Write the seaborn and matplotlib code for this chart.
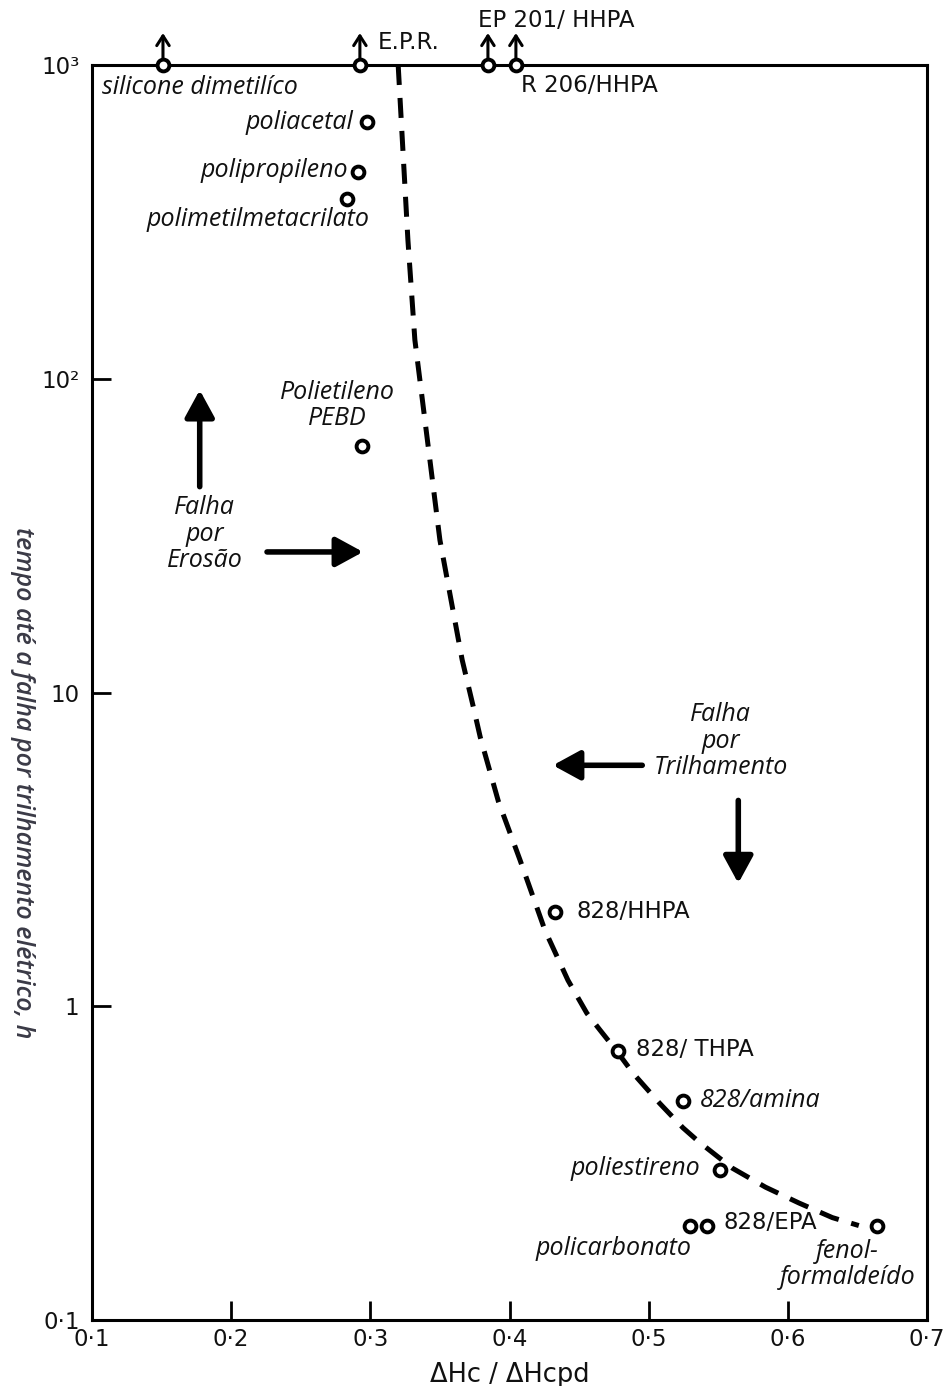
import numpy as np
import pandas as pd
import matplotlib
matplotlib.use("Agg")
import matplotlib.pyplot as plt
import seaborn as sns

# ---------------- data ----------------
materials = ["silicone dimetilíco", "E.P.R.", "EP 201/ HHPA", "R 206/HHPA",
             "poliacetal", "polipropileno", "polimetilmetacrilato",
             "Polietileno\nPEBD", "828/HHPA", "828/ THPA", "828/amina",
             "poliestireno", "policarbonato", "828/EPA", "fenol-\nformaldeído"]
dh_ratio = [0.151, 0.2925, 0.3845, 0.4046,
            0.2976, 0.291, 0.283,
            0.294, 0.433, 0.478, 0.525,
            0.551, 0.530, 0.542, 0.664]
time_h = [1000, 1000, 1000, 1000,
          658, 456, 374,
          61, 2.0, 0.72, 0.50,
          0.30, 0.20, 0.20, 0.20]
above_range = [True, True, True, True] + [False] * 11

curve_x = [0.320, 0.327, 0.332, 0.350, 0.366, 0.374, 0.379, 0.392, 0.4075,
           0.4254, 0.442, 0.4556, 0.465, 0.477, 0.489, 0.508, 0.5246, 0.536,
           0.560, 0.584, 0.608, 0.632, 0.651]
curve_y = [1000, 277, 133, 30.6, 12.7, 9.0, 7.2, 4.5, 2.93,
           1.75, 1.21, 0.95, 0.84, 0.72, 0.61, 0.49, 0.41, 0.37,
           0.305, 0.265, 0.236, 0.212, 0.20]

x_ticks = [0.1, 0.2, 0.3, 0.4, 0.5, 0.6, 0.7]
x_tick_labels = ["0·1", "0·2", "0·3", "0·4", "0·5", "0·6", "0·7"]
y_ticks = [0.1, 1, 10, 100, 1000]
y_tick_labels = ["0·1", "1", "10", "10²", "10³"]

df = pd.DataFrame({"material": materials, "ratio": dh_ratio, "tempo": time_h,
                   "acima": above_range})

# ---------------- styling ----------------
sns.set_theme(style="ticks")
plt.rcParams["font.family"] = ["Open Sans", "DejaVu Sans"]
plt.rcParams["axes.linewidth"] = 2.2
UPRIGHT = ["DejaVu Sans"]
ITALIC = ["Open Sans", "DejaVu Sans"]
INK = "#111111"

fig = plt.figure(figsize=(9.46, 13.86), dpi=100)
ax = fig.add_axes([92 / 946, 66 / 1386, 835 / 946, 1255 / 1386])
ax.set_yscale("log")

# dashed trend curve
sns.lineplot(x=curve_x, y=curve_y, ax=ax, color="black", lw=3.6, sort=False,
             estimator=None, linestyle=(0, (4, 2.6)), zorder=3, clip_on=False)
ax.lines[-1].set_dash_capstyle("butt")

# data points
sns.scatterplot(data=df, x="ratio", y="tempo", ax=ax, s=72, facecolor="white",
                edgecolor="black", linewidth=2.8, zorder=6, clip_on=False,
                legend=False)

ax.set_xlim(0.1, 0.7)
ax.set_ylim(0.1, 1000)
ax.set_xticks(x_ticks)
ax.set_xticklabels(x_tick_labels, family=UPRIGHT)
ax.set_yticks(y_ticks)
ax.set_yticklabels(y_tick_labels, family=UPRIGHT)
ax.minorticks_off()
ax.tick_params(axis="both", direction="in", length=14, width=2, color="black",
               labelsize=16.5, labelcolor=INK)
ax.tick_params(axis="x", pad=6)
ax.tick_params(axis="y", pad=9)
for sp in ax.spines.values():
    sp.set_visible(True)
    sp.set_color("black")
    sp.set_linewidth(2.2)
    sp.set_zorder(4)
ax.set_xlabel("ΔHc / ΔHcpd", fontsize=18.5, labelpad=8, color=INK,
              family=UPRIGHT)
ax.set_ylabel("")

# small up arrows for results beyond 10^3 h
for _, r in df[df["acima"]].iterrows():
    ax.annotate("", xy=(r["ratio"], r["tempo"]), xycoords="data",
                xytext=(0, 23), textcoords="offset points",
                arrowprops=dict(arrowstyle="<-,head_length=0.5,head_width=0.32",
                                lw=2.2, color="black", shrinkA=0, shrinkB=5,
                                mutation_scale=14),
                annotation_clip=False, zorder=7)

# point labels: (dx, dy) in points, ha, italic?
label_style = {
    "silicone dimetilíco": (-44, -16.5, "left", True),
    "E.P.R.": (13, 16, "left", False),
    "EP 201/ HHPA": (-7, 32, "left", False),
    "R 206/HHPA": (4, -15, "left", False),
    "poliacetal": (-10, 0, "right", True),
    "polipropileno": (-7, 1, "right", True),
    "polimetilmetacrilato": (-64, -15, "center", True),
    "Polietileno\nPEBD": (-18, 29, "center", True),
    "828/HHPA": (15, 0, "left", False),
    "828/ THPA": (13, 1, "left", False),
    "828/amina": (12, 0, "left", True),
    "poliestireno": (-14, 1, "right", True),
    "policarbonato": (-55, -16.5, "center", True),
    "828/EPA": (11.5, 2, "left", False),
    "fenol-\nformaldeído": (-21, -28, "center", True),
}
for _, r in df.iterrows():
    dx, dy, ha, ital = label_style[r["material"]]
    ax.annotate(r["material"], xy=(r["ratio"], r["tempo"]), xycoords="data",
                xytext=(dx, dy), textcoords="offset points", ha=ha, va="center",
                fontsize=18 if ital else 16.5,
                family=ITALIC if ital else UPRIGHT,
                fontstyle="italic" if ital else "normal",
                color=INK, linespacing=1.05, annotation_clip=False,
                zorder=8)

# regime annotations
big_arrow = dict(arrowstyle="-|>,head_length=0.55,head_width=0.3", lw=4,
                 color="black", shrinkA=0, shrinkB=0, mutation_scale=30)
ax.text(0.135, 0.626, "Falha\npor\nErosão", transform=ax.transAxes,
        ha="center", va="center", fontsize=18, fontstyle="italic",
        linespacing=1.08, color=INK, family=ITALIC)
ax.annotate("", xy=(0.129, 0.741), xytext=(0.129, 0.664),
            xycoords="axes fraction", textcoords="axes fraction",
            arrowprops=big_arrow)
ax.annotate("", xy=(0.3246, 0.612), xytext=(0.2096, 0.612),
            xycoords="axes fraction", textcoords="axes fraction",
            arrowprops=big_arrow)

ax.text(0.753, 0.461, "Falha\npor\nTrilhamento", transform=ax.transAxes,
        ha="center", va="center", fontsize=18, fontstyle="italic",
        linespacing=1.08, color=INK, family=ITALIC)
ax.annotate("", xy=(0.552, 0.442), xytext=(0.659, 0.442),
            xycoords="axes fraction", textcoords="axes fraction",
            arrowprops=big_arrow)
ax.annotate("", xy=(0.774, 0.348), xytext=(0.774, 0.414),
            xycoords="axes fraction", textcoords="axes fraction",
            arrowprops=big_arrow)

# y axis title
fig.text(22 / 946, 1 - 783 / 1386,
         "tempo até a falha por trilhamento elétrico, h",
         rotation=270, ha="center", va="center", fontsize=18,
         fontstyle="italic", fontweight="semibold", color="#3a3a46",
         family=ITALIC)

fig.savefig("out.png", dpi=100, facecolor="white")
